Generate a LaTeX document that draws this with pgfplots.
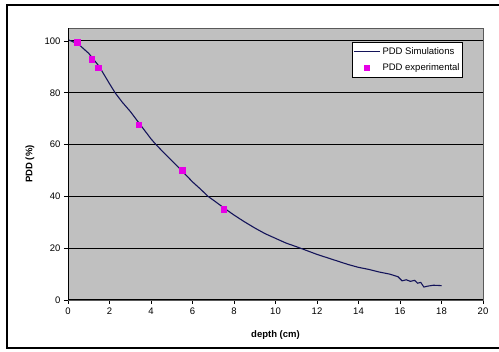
\documentclass[border=0pt]{standalone}
\usepackage{fontspec}
\setmainfont{Liberation Sans}
\usepackage{pgfplots}
\pgfplotsset{compat=1.18}
\definecolor{plotgray}{RGB}{192,192,192}
\definecolor{navyline}{RGB}{20,20,90}
\definecolor{expmag}{RGB}{230,0,230}
\begin{document}
\begin{tikzpicture}
\useasboundingbox (0,0) rectangle (499bp,352bp);
\fill[white] (0,0) rectangle (499bp,352bp);
\draw[black, line width=1.2bp] (7bp,4bp) rectangle (502bp,347bp);
\begin{axis}[
  at={(68bp,52bp)}, anchor=south west,
  scale only axis, width=415bp, height=272bp,
  xmin=0, xmax=20, ymin=0, ymax=105,
  xtick={0,2,...,20}, ytick={0,20,...,100},
  axis background/.style={fill=plotgray},
  axis line style={draw=gray!70!black, line width=0.8bp},
  ymajorgrids, grid style={black, line width=1bp},
  tick align=outside, major tick length=4bp,
  tick style={black, line width=0.8bp},
  xtick pos=bottom, ytick pos=left,
  ticklabel style={font=\fontsize{9.5bp}{11bp}\selectfont},
  /pgf/number format/assume math mode=true,
  xlabel={\bfseries depth (cm)}, ylabel={\bfseries PDD (\%)},
  label style={font=\fontsize{9.5bp}{11bp}\selectfont},
  xlabel style={at={(axis description cs:0.5,-0.128)}, anchor=center},
  ylabel style={at={(axis description cs:-0.092,0.5)}, anchor=center},
  legend style={at={(axis description cs:0.952,0.9485)}, anchor=north east,
    draw=black, line width=1bp, fill=white, font=\fontsize{9.5bp}{11bp}\selectfont,
    inner xsep=1bp, inner ysep=3bp, row sep=4bp},
  legend cell align=left,
]
\addplot[navyline, line width=1.1bp,
  legend image code/.code={\draw[navyline, line width=1.1bp] (0bp,0bp) -- (26bp,0bp);}] coordinates {
(0,100.5) (0.5,98.8) (1,95.2) (1.5,90.2) (2,83.5) (2.27,80) (2.6,76.5) (3,72.8) (3.5,67.5)
(4,62.2) (4.24,60) (4.6,57) (5,53.8) (5.5,49.8) (6,45.6) (6.4,42.7) (6.75,40) (7.1,38)
(7.5,35.6) (8,32.8) (8.5,30.2) (9,27.8) (9.5,25.6) (10,23.8) (10.5,22.0) (11,20.6) (11.2,20)
(11.6,18.8) (12,17.6) (12.5,16.3) (13,15.0) (13.5,13.7) (14,12.6) (14.5,11.8) (15,10.8)
(15.5,10.0) (15.9,9.0) (16.1,7.4) (16.3,7.8) (16.5,7.2) (16.7,7.6) (16.85,6.5) (17.0,6.8)
(17.15,5.0) (17.3,5.3) (17.6,5.7) (17.9,5.6) (18,5.5)
};
\addlegendentry{PDD Simulations}
\addplot[only marks, mark=square*, mark size=2.8bp, color=expmag,
  legend image code/.code={\path[draw=none, fill=none] (0bp,0bp) -- (26bp,0bp); \fill[expmag, draw=none] (10bp,-2.8bp) rectangle (15.6bp,2.8bp);}] coordinates {
(0.45,99.5) (1.15,93) (1.45,89.6) (3.4,67.7) (5.5,50) (7.5,35)
};
\addlegendentry{PDD experimental}
\draw[black, line width=1bp] (rel axis cs:0,0) -- (rel axis cs:0,1);
\draw[black, line width=1bp] (rel axis cs:0,0) -- (rel axis cs:1,0);
\end{axis}
\end{tikzpicture}
\end{document}
